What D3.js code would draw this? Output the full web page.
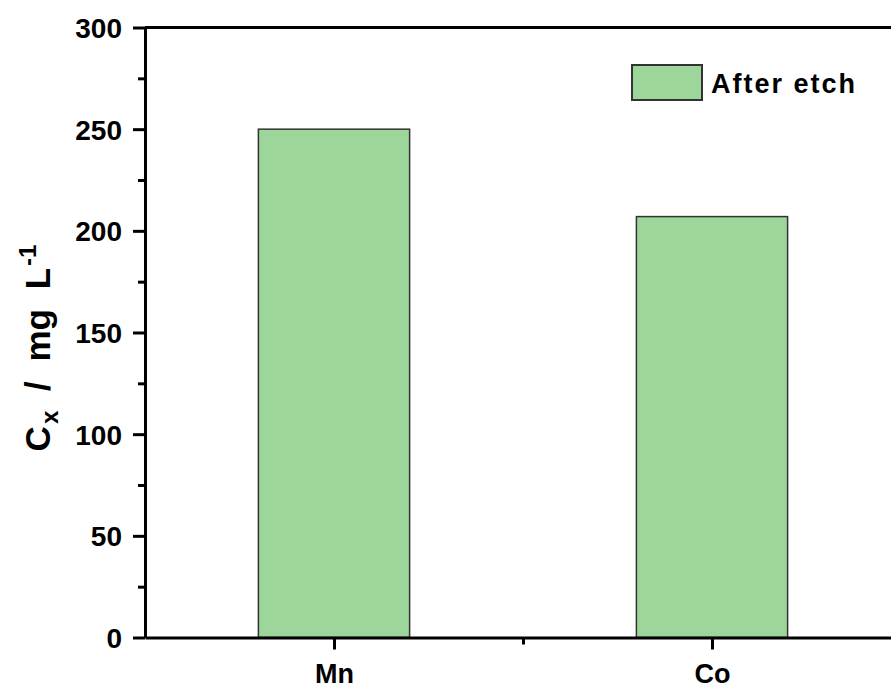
<!DOCTYPE html>
<html>
<head>
<meta charset="utf-8">
<script src="https://cdn.jsdelivr.net/npm/d3@7"></script>
<style>
  body { margin: 0; background: #fff; }
  svg { display: block; font-family: "Liberation Sans", Arial, sans-serif; }
</style>
</head>
<body>
<div id="chart"></div>
<script>
// data
var categories = ["Mn", "Co"];
var afterEtch = [250, 207];
var seriesName = "After etch";
var yTicks = [0, 50, 100, 150, 200, 250, 300];
var yMinorTicks = [25, 75, 125, 175, 225, 275];
var xMinorTicks = [1.5];

var svgWidth = 891;
var svgHeight = 689;

var svg = d3.select("#chart")
    .append("svg")
    .attr("width", svgWidth)
    .attr("height", svgHeight);

// category positions 1, 2 on a linear scale, like the original plot
var xScale = d3.scaleLinear()
    .domain([0.5, 2.5])
    .range([145, 901]);
var yScale = d3.scaleLinear()
    .domain([0, 300])
    .range([637.5, 27.5]);

var barWidth = xScale(1.4) - xScale(1);

// bars
svg.append("g")
    .selectAll("rect")
    .data(afterEtch)
    .enter()
    .append("rect")
    .attr("x", (d, i) => xScale(i + 1) - barWidth / 2)
    .attr("y", d => yScale(d))
    .attr("width", barWidth)
    .attr("height", d => yScale(0) - yScale(d))
    .attr("fill", "#9dd69b")
    .attr("stroke", "#333")
    .attr("stroke-width", 1.5);

// top frame
svg.append("line")
    .attr("x1", xScale(0.5))
    .attr("x2", xScale(2.5))
    .attr("y1", yScale(300))
    .attr("y2", yScale(300))
    .attr("stroke", "#000")
    .attr("stroke-width", 3);

// y axis minor ticks
svg.append("g")
    .attr("transform", `translate(${xScale(0.5)},0)`)
    .call(d3.axisLeft(yScale).tickValues(yMinorTicks).tickSize(7).tickFormat(""))
    .call(g => g.select(".domain").remove())
    .call(g => g.selectAll("line").attr("stroke-width", 3));

// y axis
svg.append("g")
    .attr("transform", `translate(${xScale(0.5)},0)`)
    .call(d3.axisLeft(yScale).tickValues(yTicks).tickSize(12).tickSizeOuter(0).tickPadding(11))
    .call(g => g.select(".domain").attr("stroke-width", 3))
    .call(g => g.selectAll("line").attr("stroke-width", 3))
    .call(g => g.selectAll("text")
        .attr("font-size", 28)
        .attr("font-weight", "bold")
        .attr("fill", "#000")
        .attr("dy", "0.36em")
        .attr("font-family", "Liberation Sans, Arial, sans-serif"));

// x axis minor ticks
svg.append("g")
    .attr("transform", `translate(0,${yScale(0)})`)
    .call(d3.axisBottom(xScale).tickValues(xMinorTicks).tickSize(7).tickFormat(""))
    .call(g => g.select(".domain").remove())
    .call(g => g.selectAll("line").attr("stroke-width", 3));

// x axis
svg.append("g")
    .attr("transform", `translate(0,${yScale(0)})`)
    .call(d3.axisBottom(xScale).tickValues([1, 2]).tickSize(12).tickSizeOuter(0).tickPadding(14)
        .tickFormat(d => categories[d - 1]))
    .call(g => g.select(".domain").attr("stroke-width", 3))
    .call(g => g.selectAll("line").attr("stroke-width", 3))
    .call(g => g.selectAll("text")
        .attr("font-size", 27)
        .attr("font-weight", "bold")
        .attr("fill", "#000")
        .attr("font-family", "Liberation Sans, Arial, sans-serif"));

// legend
var legend = svg.append("g");
legend.append("rect")
    .attr("x", 632)
    .attr("y", 65)
    .attr("width", 70)
    .attr("height", 35)
    .attr("fill", "#9dd69b")
    .attr("stroke", "#333")
    .attr("stroke-width", 2);
legend.append("text")
    .attr("x", 711)
    .attr("y", 93)
    .attr("font-size", 27)
    .attr("font-weight", "bold")
    .attr("letter-spacing", 2)
    .text(seriesName);

// y axis title
var yTitle = svg.append("text")
    .attr("transform", "rotate(-90)")
    .attr("x", -348)
    .attr("y", 50)
    .attr("text-anchor", "middle")
    .attr("font-size", 35)
    .attr("font-weight", "bold")
    .attr("word-spacing", 10);
yTitle.append("tspan").text("C");
yTitle.append("tspan").attr("font-size", 24).attr("dy", 8).attr("dx", 2).text("x");
yTitle.append("tspan").attr("dy", -8).text(" / mg L");
yTitle.append("tspan").attr("font-size", 24).attr("dy", -14).attr("dx", 2).text("-1");
</script>
</body>
</html>
